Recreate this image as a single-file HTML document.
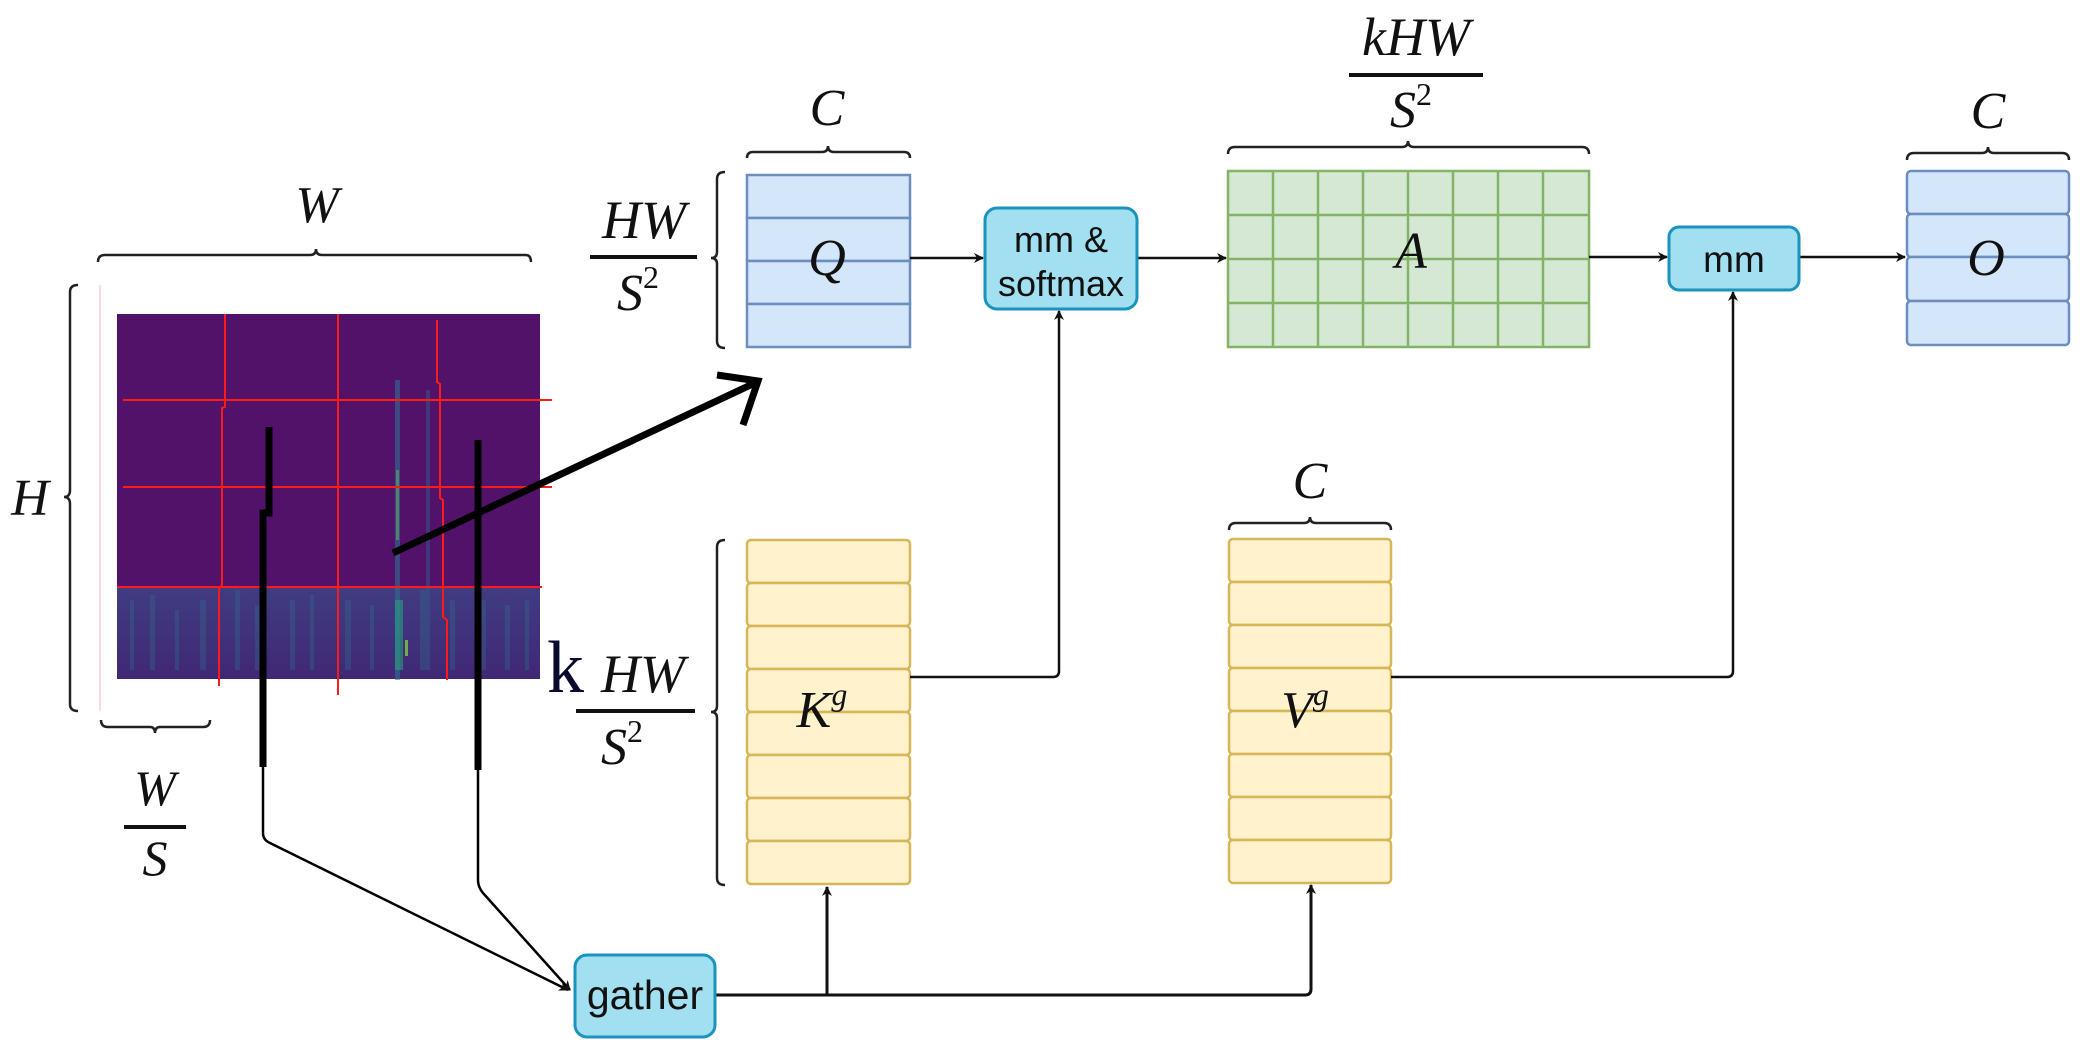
<!DOCTYPE html>
<html><head><meta charset="utf-8"><style>
html,body{margin:0;padding:0;background:#fff;}
svg{display:block;}
.m{font-family:"Liberation Serif",serif;font-style:italic;fill:#111;}
.s{font-family:"Liberation Sans",sans-serif;fill:#111;}
</style></head><body>
<svg width="2088" height="1046" viewBox="0 0 2088 1046" xmlns="http://www.w3.org/2000/svg">
<defs>
<marker id="ah" markerWidth="10" markerHeight="10" refX="9" refY="5" orient="auto" markerUnits="userSpaceOnUse">
<path d="M0,0 L10,5 L0,10 L3,5 Z" fill="#111"/></marker>
<linearGradient id="band" x1="0" y1="0" x2="0" y2="1">
<stop offset="0" stop-color="#3b4a8a"/><stop offset="1" stop-color="#3a2f78"/></linearGradient>
</defs>

<!-- spectrogram -->
<rect x="117" y="314" width="423" height="365" fill="#52126a"/>
<rect x="117" y="587" width="423" height="92" fill="url(#band)" opacity="0.75"/>
<g fill="#2f6e8e" opacity="0.35">
<rect x="130" y="600" width="4" height="70"/><rect x="150" y="595" width="5" height="75"/><rect x="175" y="610" width="4" height="60"/>
<rect x="200" y="600" width="6" height="70"/><rect x="235" y="590" width="5" height="80"/><rect x="255" y="605" width="6" height="65"/>
<rect x="290" y="600" width="5" height="70"/><rect x="310" y="595" width="4" height="75"/><rect x="345" y="600" width="6" height="70"/>
<rect x="370" y="605" width="4" height="65"/><rect x="420" y="590" width="6" height="80"/><rect x="450" y="600" width="5" height="70"/>
<rect x="480" y="600" width="6" height="70"/><rect x="505" y="605" width="5" height="65"/><rect x="525" y="600" width="4" height="70"/>
</g>
<rect x="395" y="380" width="5" height="300" fill="#2e6f8e" opacity="0.6"/>
<rect x="396" y="470" width="3" height="70" fill="#5fa862" opacity="0.6"/>
<rect x="395" y="600" width="8" height="70" fill="#27a07f" opacity="0.6"/>
<rect x="405" y="640" width="3" height="16" fill="#7ecb3f" opacity="0.8"/>
<rect x="426" y="390" width="4" height="280" fill="#2f5b8e" opacity="0.5"/>
<g stroke="#ff1a1a" stroke-width="2" fill="none">
<line x1="123" y1="400" x2="552" y2="400"/><line x1="123" y1="487" x2="552" y2="487"/><line x1="117" y1="587" x2="542" y2="587"/>
<polyline points="225,314 225,407 222,408 222,585 219,588 219,686"/>
<line x1="338" y1="314" x2="338" y2="695"/>
<polyline points="437,320 437,382 440,384 440,498 443,500 443,617 447,620 447,680"/>
</g>
<line x1="100" y1="285" x2="100" y2="711" stroke="#f5b5b5" stroke-width="1"/>

<!-- braces around spectrogram -->
<g stroke="#222" stroke-width="2.5" fill="none">
<path d="M98,262 Q98,255 105,255 L310,255 Q316,255 316,249 Q316,255 322,255 L526,255 Q531,255 531,262"/>
<path d="M78,285 Q70,285 70,292 L70,490 Q70,497 64,497 Q70,497 70,504 L70,704 Q70,711 78,711"/>
<path d="M101,720 Q101,727 108,727 L150,727 Q155,727 155,733 Q155,727 160,727 L203,727 Q210,727 210,720"/>
</g>
<text class="m" x="317" y="222" font-size="52" text-anchor="middle">W</text>
<text class="m" x="30" y="515" font-size="52" text-anchor="middle">H</text>
<text class="m" x="155" y="805" font-size="50" text-anchor="middle">W</text>
<line x1="124" y1="827" x2="186" y2="827" stroke="#111" stroke-width="4"/>
<text class="m" x="155" y="875" font-size="50" text-anchor="middle">S</text>

<!-- thick black lines and connectors -->
<g stroke="#000" fill="none">
<polyline points="269,427 269,513 263,513 263,767" stroke-width="7"/>
<line x1="478" y1="440" x2="478" y2="770" stroke-width="7"/>
<path d="M263,767 L263,833 Q263,840 270,843 L568,990" stroke-width="2.5" marker-end="url(#ah)"/>
<path d="M478,770 L478,880 Q478,887 483,893 L570,990" stroke-width="2.5" marker-end="url(#ah)"/>
<line x1="393" y1="553" x2="757" y2="382" stroke-width="7"/>
<polyline points="717,375 758,381 743,425" stroke-width="7"/>
</g>

<!-- Q -->
<g fill="#d4e6f9" stroke="#6c8ebf" stroke-width="2.5">
<rect x="747" y="175" width="163" height="43"/><rect x="747" y="218" width="163" height="43"/>
<rect x="747" y="261" width="163" height="43"/><rect x="747" y="304" width="163" height="43"/>
</g>
<text class="m" x="827" y="275" font-size="52" text-anchor="middle">Q</text>
<g stroke="#222" stroke-width="2.5" fill="none">
<path d="M747,158 Q747,152 753,152 L822,152 Q828,152 828,146 Q828,152 834,152 L904,152 Q910,152 910,158"/>
<path d="M725,172 Q717,172 717,179 L717,252 Q717,258 711,258 Q717,258 717,264 L717,341 Q717,348 725,348"/>
<path d="M725,540 Q717,540 717,547 L717,706 Q717,712 711,712 Q717,712 717,718 L717,878 Q717,885 725,885"/>
</g>
<text class="m" x="827" y="125" font-size="52" text-anchor="middle">C</text>
<text class="m" x="644" y="238" font-size="54" text-anchor="middle">HW</text>
<line x1="590" y1="257" x2="697" y2="257" stroke="#111" stroke-width="4"/>
<text class="m" x="638" y="310" font-size="52" text-anchor="middle">S<tspan font-style="normal" font-size="32" dy="-22">2</tspan></text>

<!-- K -->
<g fill="#fff2cc" stroke="#d6b656" stroke-width="2.5">
<rect x="747" y="540" width="163" height="43" rx="4"/><rect x="747" y="583" width="163" height="43" rx="4"/>
<rect x="747" y="626" width="163" height="43" rx="4"/><rect x="747" y="669" width="163" height="43" rx="4"/>
<rect x="747" y="712" width="163" height="43" rx="4"/><rect x="747" y="755" width="163" height="43" rx="4"/>
<rect x="747" y="798" width="163" height="43" rx="4"/><rect x="747" y="841" width="163" height="43" rx="4"/>
</g>
<text class="m" x="822" y="727" font-size="52" text-anchor="middle">K<tspan font-size="32" dy="-22">g</tspan></text>
<text x="547" y="692" font-family="Liberation Serif,serif" font-size="74" fill="#0a0a30">k</text>
<text class="m" x="643" y="692" font-size="54" text-anchor="middle">HW</text>
<line x1="576" y1="711" x2="695" y2="711" stroke="#111" stroke-width="4"/>
<text class="m" x="622" y="764" font-size="52" text-anchor="middle">S<tspan font-style="normal" font-size="32" dy="-22">2</tspan></text>

<!-- V -->
<g fill="#fff2cc" stroke="#d6b656" stroke-width="2.5">
<rect x="1229" y="539" width="162" height="43" rx="4"/><rect x="1229" y="582" width="162" height="43" rx="4"/>
<rect x="1229" y="625" width="162" height="43" rx="4"/><rect x="1229" y="668" width="162" height="43" rx="4"/>
<rect x="1229" y="711" width="162" height="43" rx="4"/><rect x="1229" y="754" width="162" height="43" rx="4"/>
<rect x="1229" y="797" width="162" height="43" rx="4"/><rect x="1229" y="840" width="162" height="43" rx="4"/>
</g>
<text class="m" x="1305" y="727" font-size="52" text-anchor="middle">V<tspan font-size="32" dy="-22">g</tspan></text>
<path d="M1229,530 Q1229,523 1236,523 L1304,523 Q1310,523 1310,517 Q1310,523 1316,523 L1384,523 Q1391,523 1391,530" stroke="#222" stroke-width="2.5" fill="none"/>
<text class="m" x="1310" y="498" font-size="52" text-anchor="middle">C</text>

<!-- A -->
<g fill="#d5e8d4" stroke="#82b366" stroke-width="2.5">
<rect x="1228" y="171" width="361" height="176"/>
</g>
<g stroke="#82b366" stroke-width="2.5">
<line x1="1273" y1="171" x2="1273" y2="347"/><line x1="1318" y1="171" x2="1318" y2="347"/><line x1="1363" y1="171" x2="1363" y2="347"/>
<line x1="1408" y1="171" x2="1408" y2="347"/><line x1="1453" y1="171" x2="1453" y2="347"/><line x1="1498" y1="171" x2="1498" y2="347"/>
<line x1="1543" y1="171" x2="1543" y2="347"/>
<line x1="1228" y1="215" x2="1589" y2="215"/><line x1="1228" y1="259" x2="1589" y2="259"/><line x1="1228" y1="303" x2="1589" y2="303"/>
</g>
<text class="m" x="1411" y="268" font-size="52" text-anchor="middle">A</text>
<path d="M1228,154 Q1228,147 1235,147 L1402,147 Q1408,147 1408,141 Q1408,147 1414,147 L1582,147 Q1589,147 1589,154" stroke="#222" stroke-width="2.5" fill="none"/>
<text class="m" x="1416" y="55" font-size="54" text-anchor="middle">kHW</text>
<line x1="1349" y1="75" x2="1483" y2="75" stroke="#111" stroke-width="4"/>
<text class="m" x="1411" y="127" font-size="52" text-anchor="middle">S<tspan font-style="normal" font-size="32" dy="-22">2</tspan></text>

<!-- O -->
<g fill="#d4e6f9" stroke="#6c8ebf" stroke-width="2.5">
<rect x="1907" y="171" width="162" height="43" rx="4"/><rect x="1907" y="214" width="162" height="43" rx="4"/>
<rect x="1907" y="257" width="162" height="44" rx="4"/><rect x="1907" y="301" width="162" height="44" rx="4"/>
</g>
<text class="m" x="1986" y="275" font-size="52" text-anchor="middle">O</text>
<path d="M1907,160 Q1907,153 1914,153 L1982,153 Q1988,153 1988,147 Q1988,153 1994,153 L2062,153 Q2069,153 2069,160" stroke="#222" stroke-width="2.5" fill="none"/>
<text class="m" x="1988" y="128" font-size="52" text-anchor="middle">C</text>

<!-- connectors -->
<g stroke="#111" stroke-width="2.5" fill="none">
<line x1="910" y1="258" x2="983" y2="258" marker-end="url(#ah)"/>
<line x1="1137" y1="258" x2="1226" y2="258" marker-end="url(#ah)"/>
<line x1="1589" y1="257" x2="1667" y2="257" marker-end="url(#ah)"/>
<line x1="1799" y1="257" x2="1905" y2="257" marker-end="url(#ah)"/>
<path d="M910,677 L1053,677 Q1059,677 1059,671 L1059,311" marker-end="url(#ah)"/>
<path d="M1391,677 L1727,677 Q1733,677 1733,671 L1733,292" marker-end="url(#ah)"/>
<path d="M715,995 L1305,995 Q1311,995 1311,989 L1311,885" marker-end="url(#ah)" stroke-width="3"/>
<path d="M827,995 L827,887" marker-end="url(#ah)" stroke-width="3"/>
</g>

<!-- blue boxes -->
<rect x="985" y="208" width="152" height="101" rx="12" fill="#a2dff0" stroke="#1a93bd" stroke-width="3"/>
<text class="s" x="1061" y="252" font-size="36" text-anchor="middle">mm &amp;</text>
<text class="s" x="1061" y="296" font-size="36" text-anchor="middle">softmax</text>
<rect x="1669" y="227" width="130" height="63" rx="10" fill="#a2dff0" stroke="#1a93bd" stroke-width="3"/>
<text class="s" x="1734" y="272" font-size="37" text-anchor="middle">mm</text>
<rect x="575" y="955" width="140" height="82" rx="12" fill="#a2dff0" stroke="#1a93bd" stroke-width="3"/>
<text class="s" x="645" y="1009" font-size="41" text-anchor="middle">gather</text>
</svg>
</body></html>
